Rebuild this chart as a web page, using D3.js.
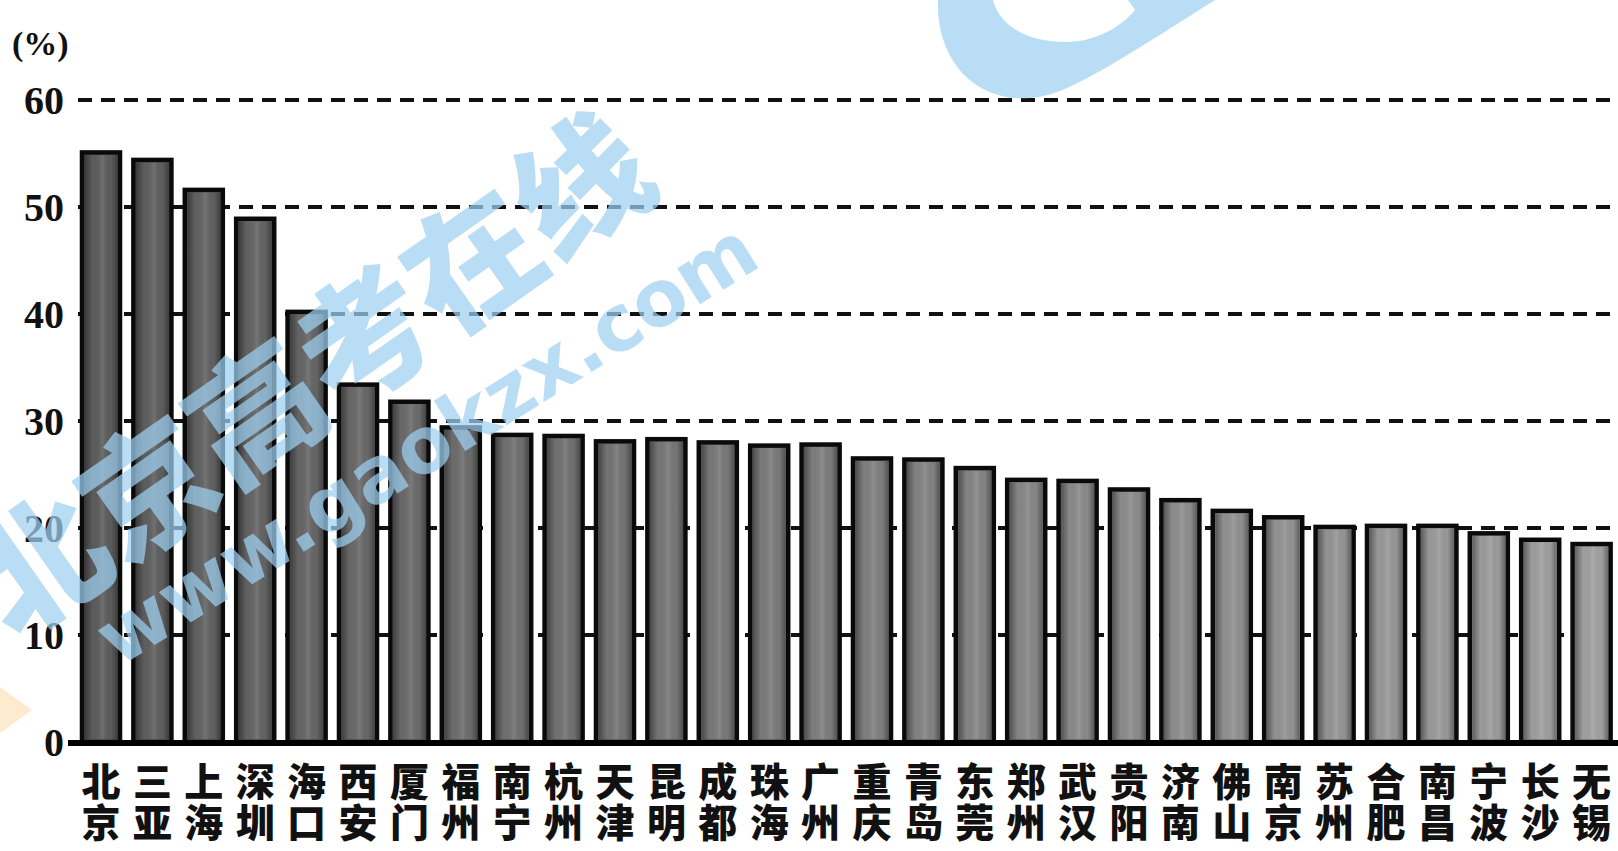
<!DOCTYPE html>
<html>
<head>
<meta charset="utf-8">
<script src="https://cdn.jsdelivr.net/npm/d3@7"></script>
<style>
  html, body { margin: 0; padding: 0; background: #fff; }
  svg { display: block; }
</style>
</head>
<body>
<svg id="chart" width="1618" height="851"></svg>
<script>
// data
const cities = ["北京", "三亚", "上海", "深圳", "海口", "西安", "厦门", "福州", "南宁", "杭州",
    "天津", "昆明", "成都", "珠海", "广州", "重庆", "青岛", "东莞", "郑州", "武汉",
    "贵阳", "济南", "佛山", "南京", "苏州", "合肥", "南昌", "宁波", "长沙", "无锡"];
const values = [55.1, 54.4, 51.6, 48.9, 40.2, 33.4, 31.8, 29.4, 28.7, 28.6,
    28.1, 28.3, 28.0, 27.7, 27.8, 26.5, 26.4, 25.6, 24.5, 24.4,
    23.6, 22.6, 21.6, 21.0, 20.1, 20.2, 20.2, 19.5, 18.9, 18.5];
const yTicks = [0, 10, 20, 30, 40, 50, 60];
const unitLabel = "(%)";

const svg = d3.select("#chart");
const W = 1618;

const x = d3.scaleBand()
    .domain(cities)
    .range([75.3, 75.3 + 30 * 51.4])
    .paddingInner(0.26)
    .paddingOuter(0.13);

const y = d3.scaleLinear()
    .domain([0, 60])
    .range([742, 100]);

// shading across each bar, darker at the edges
const defs = svg.append("defs");
const shade = defs.append("linearGradient").attr("id", "shade")
    .attr("x1", 0).attr("x2", 1).attr("y1", 0).attr("y2", 0);
shade.append("stop").attr("offset", 0).attr("stop-color", "#000").attr("stop-opacity", 0.4);
shade.append("stop").attr("offset", 0.25).attr("stop-color", "#000").attr("stop-opacity", 0);
shade.append("stop").attr("offset", 0.55).attr("stop-color", "#fff").attr("stop-opacity", 0.12);
shade.append("stop").attr("offset", 0.8).attr("stop-color", "#000").attr("stop-opacity", 0);
shade.append("stop").attr("offset", 1).attr("stop-color", "#000").attr("stop-opacity", 0.35);

// dashed grid lines
svg.append("g")
    .selectAll("line")
    .data(yTicks.filter(d => d > 0))
    .join("line")
    .attr("x1", 78)
    .attr("x2", W)
    .attr("y1", d => y(d))
    .attr("y2", d => y(d))
    .attr("stroke", "#111")
    .attr("stroke-width", 4)
    .attr("stroke-dasharray", "14,9");

// bars
const barColor = d3.scaleLinear()
    .domain([0, cities.length - 1])
    .range(["#5c5c5c", "#a0a0a0"]);

const bars = svg.append("g");
bars.selectAll("rect.bar")
    .data(cities)
    .join("rect")
    .attr("class", "bar")
    .attr("x", d => x(d))
    .attr("y", (d, i) => y(values[i]))
    .attr("width", x.bandwidth())
    .attr("height", (d, i) => y(0) - y(values[i]))
    .attr("fill", (d, i) => barColor(i))
    .attr("stroke", "#0a0a0a")
    .attr("stroke-width", 4.5);

bars.selectAll("rect.shade")
    .data(cities)
    .join("rect")
    .attr("class", "shade")
    .attr("x", d => x(d) + 2.5)
    .attr("y", (d, i) => y(values[i]) + 2.5)
    .attr("width", x.bandwidth() - 5)
    .attr("height", (d, i) => y(0) - y(values[i]) - 5)
    .attr("fill", "url(#shade)");

// baseline
svg.append("line")
    .attr("x1", 68).attr("x2", W)
    .attr("y1", y(0) + 1).attr("y2", y(0) + 1)
    .attr("stroke", "#000")
    .attr("stroke-width", 6);

// y axis labels
svg.append("g")
    .selectAll("text")
    .data(yTicks)
    .join("text")
    .attr("x", 64)
    .attr("y", d => y(d))
    .attr("dy", "0.35em")
    .attr("text-anchor", "end")
    .attr("font-family", "'Liberation Serif', 'DejaVu Serif', serif")
    .attr("font-weight", "bold")
    .attr("font-size", 40)
    .attr("fill", "#111")
    .text(d => d);

svg.append("text")
    .attr("x", 12)
    .attr("y", 55)
    .attr("font-family", "'Liberation Serif', serif")
    .attr("font-weight", "bold")
    .attr("font-size", 34)
    .attr("fill", "#111")
    .text(unitLabel);

// city names, one character per row under each bar
const names = svg.append("g")
    .attr("font-family", "'Noto Sans CJK SC', sans-serif")
    .attr("font-weight", 900)
    .attr("font-size", 39)
    .attr("fill", "#111")
    .attr("text-anchor", "middle");

names.selectAll("text.top")
    .data(cities)
    .join("text")
    .attr("class", "top")
    .attr("x", d => x(d) + x.bandwidth() / 2)
    .attr("y", 796)
    .text(d => d[0]);

names.selectAll("text.bottom")
    .data(cities)
    .join("text")
    .attr("class", "bottom")
    .attr("x", d => x(d) + x.bandwidth() / 2)
    .attr("y", 837)
    .text(d => d[1]);

// watermark over the chart
const mark = svg.append("g").attr("fill", "#9fd0f2").attr("opacity", 0.72);

mark.append("path")
    .attr("fill-rule", "evenodd")
    .attr("d", "M938,0 C936,60 975,102 1030,98 C1060,96 1090,80 1215,0 Z " +
        "M993,0 C1000,28 1030,42 1066,42 C1096,42 1122,26 1135,10 L1128,0 Z");

mark.append("path")
    .attr("fill", "#fde3bd")
    .attr("d", "M0,687 L32,710 L0,733 Z");

mark.append("text")
    .attr("transform", "translate(14,642) rotate(-35)")
    .attr("font-family", "'Noto Sans CJK SC', sans-serif")
    .attr("font-weight", 900)
    .attr("font-size", 132)
    .text("北京高考在线");

mark.append("text")
    .attr("transform", "translate(118,668) rotate(-32)")
    .attr("font-family", "'DejaVu Sans', sans-serif")
    .attr("font-weight", "bold")
    .attr("font-size", 78)
    .text("www.gaokzx.com");
</script>
</body>
</html>
